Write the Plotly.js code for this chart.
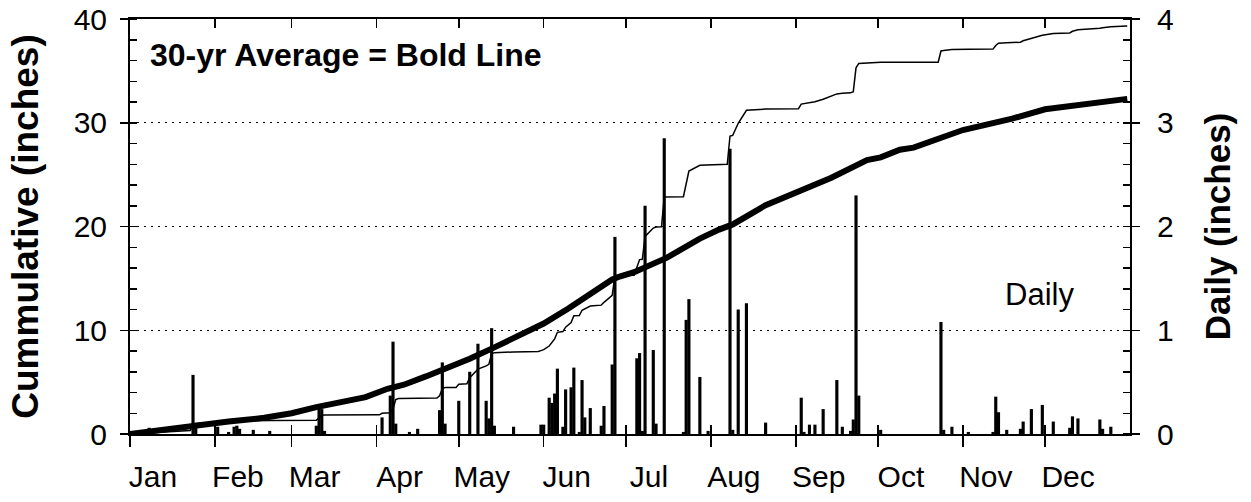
<!DOCTYPE html>
<html>
<head>
<meta charset="utf-8">
<script src="https://cdn.plot.ly/plotly-3.0.1.min.js"></script>
<style>html,body{margin:0;padding:0;background:#fff;}#chart{width:1251px;height:502px;}</style>
</head>
<body>
<div id="chart"></div>
<script>
// ---- data (day-of-year, inches) ----
const YEAR = 2023;
const monthLabels = ['Jan','Feb','Mar','Apr','May','Jun','Jul','Aug','Sep','Oct','Nov','Dec'];
const monthStartDay = [1,32,60,91,121,152,182,213,244,274,305,335];

const dailyDay = [8,24,25,33,37,39,40,41,46,52,69,70,71,72,93,96,97,98,103,106,114,115,116,121,125,128,131,132,133,134,141,151,152,154,155,156,157,159,160,162,163,165,166,167,169,173,174,177,178,186,187,188,189,192,193,196,203,204,205,209,212,220,221,223,226,233,246,247,249,251,254,259,261,264,265,266,267,275,297,298,301,307,316,317,318,321,326,327,330,334,338,344,345,347,355,356,359];
const dailyInches = [0.06,0.57,0.1,0.07,0.02,0.07,0.08,0.05,0.04,0.03,0.08,0.25,0.24,0.03,0.16,0.37,0.89,0.1,0.02,0.05,0.23,0.69,0.1,0.32,0.6,0.87,0.32,0.15,1.02,0.08,0.07,0.09,0.09,0.35,0.3,0.39,0.63,0.07,0.43,0.45,0.64,0.02,0.52,0.16,0.25,0.08,0.27,0.67,1.9,0.73,0.78,0.03,2.2,0.81,0.1,2.85,0.02,1.1,1.3,0.55,0.03,2.75,0.04,1.2,1.26,0.11,0.35,0.02,0.09,0.09,0.24,0.52,0.07,0.03,0.14,2.3,0.37,0.04,1.08,0.04,0.07,0.02,0.02,0.36,0.21,0.04,0.05,0.12,0.24,0.28,0.12,0.06,0.17,0.15,0.14,0.05,0.07];

const cumDay = [1,8,23,24,25,33,37,39,41,46,52,69,70,71,72,92,93,96,97,98,99,113,114,115,116,120,121,124,125,128,131,132,133,134,141,150,151,152,154,155,156,157,159,160,162,163,165,166,167,169,173,174,177,178,185,186,187,188,189,192,193,195,196,203,204,205,209,212,219,220,221,223,226,233,245,246,247,249,251,254,259,261,264,265,266,267,274,275,296,297,298,301,307,316,317,318,321,326,327,330,334,338,344,345,347,355,356,359,365];
const cumInches = [0,0.1,0.33,0.92,1.02,1.09,1.11,1.18,1.25,1.28,1.3,1.32,1.56,1.8,1.83,1.85,2.0,2.05,2.42,3.31,3.41,3.46,3.69,4.38,4.48,4.48,4.8,4.85,5.42,6.25,6.57,6.72,7.74,7.84,7.91,7.95,8.04,8.13,8.48,8.78,9.17,9.8,9.87,10.3,10.75,11.39,11.41,11.93,12.09,12.34,12.42,12.69,13.36,15.28,15.3,16.03,16.81,16.84,19.04,19.85,19.95,19.97,22.85,22.87,24.0,25.35,25.9,25.95,26.0,28.72,28.78,29.95,31.2,31.32,31.35,31.8,31.84,31.93,32.02,32.26,32.78,32.85,32.88,33.0,35.3,35.72,35.78,35.82,35.83,36.92,36.97,37.05,37.08,37.1,37.45,37.66,37.7,37.76,37.9,38.14,38.44,38.6,38.66,38.82,38.96,39.1,39.16,39.26,39.33];

const avgDay = [1,11,24,37,50,60,69,78,87,95,101,109,117,125,134,143,152,161,169,172,177,180,185,197,209,216,221,233,245,257,270,275,282,287,305,323,335,347,365];
const avgInches = [0,0.35,0.82,1.2,1.56,2.0,2.59,3.0,3.55,4.36,4.75,5.55,6.35,7.26,8.35,9.5,10.65,12.1,13.45,14.0,14.9,15.2,15.6,17.0,18.84,19.7,20.2,22.05,23.3,24.7,26.4,26.66,27.4,27.6,29.3,30.4,31.3,31.7,32.3];

// ---- helpers ----
function doyToDate(doy){
  const t = Date.UTC(YEAR,0,1) + (doy-1)*86400000;
  return new Date(t).toISOString().slice(0,10);
}
const FONT = 'Liberation Sans, Arial, Helvetica, sans-serif';
const xStart = YEAR + '-01-01', xEnd = (YEAR+1) + '-01-01';

const traces = [
  {type:'bar', x: dailyDay.map(doyToDate), y: dailyInches, xaxis:'x', yaxis:'y2',
   width: 86400000*1.15, marker:{color:'#000', line:{width:0}}, hoverinfo:'skip', showlegend:false},
  {type:'scatter', mode:'lines', x: avgDay.map(doyToDate), y: avgInches, xaxis:'x', yaxis:'y',
   line:{color:'#000', width:6}, hoverinfo:'skip', showlegend:false},
  {type:'scatter', mode:'lines', x: cumDay.map(doyToDate), y: cumInches, xaxis:'x', yaxis:'y',
   line:{color:'#000', width:1.5}, hoverinfo:'skip', showlegend:false},
  {type:'scatter', mode:'lines', x:[xStart,xEnd], y:[0,0], xaxis:'x2', yaxis:'y',
   line:{color:'rgba(0,0,0,0)', width:0}, hoverinfo:'skip', showlegend:false},
  {type:'scatter', mode:'lines', x:[xStart,xEnd], y:[0,0], xaxis:'x3', yaxis:'y',
   line:{color:'rgba(0,0,0,0)', width:0}, hoverinfo:'skip', showlegend:false}
];

const xCommon = {type:'date', range:[xStart,xEnd], showgrid:false, zeroline:false,
  tickcolor:'#000', tickwidth:1.5, fixedrange:true};

const layout = {
  width:1251, height:502,
  margin:{l:130, r:121, t:19, b:68, pad:0},
  paper_bgcolor:'#fff', plot_bgcolor:'#fff',
  font:{family:FONT, color:'#000', size:30},
  showlegend:false,
  xaxis: Object.assign({}, xCommon, {
    anchor:'y', side:'bottom', ticks:'outside', ticklen:11,
    tickmode:'array', tickvals: monthStartDay.map(doyToDate), ticktext: monthLabels,
    ticklabelshift:23, ticklabelstandoff:4, showticklabels:true,
    tickfont:{family:FONT, size:30, color:'#000'},
    showline:true, linecolor:'#000', linewidth:2
  }),
  xaxis2: Object.assign({}, xCommon, {
    overlaying:'x', anchor:'y', side:'bottom', ticks:'inside', ticklen:9,
    dtick:'M1', tick0:xStart, showticklabels:false, showline:false
  }),
  xaxis3: Object.assign({}, xCommon, {
    overlaying:'x', anchor:'y', side:'top', ticks:'inside', ticklen:9,
    dtick:'M1', tick0:xStart, showticklabels:false, showline:true, linecolor:'#000', linewidth:2
  }),
  yaxis: {
    range:[0,40], dtick:10, tick0:0, side:'left',
    ticks:'outside', ticklen:8, tickwidth:1.5, tickcolor:'#000',
    minor:{ticks:'inside', dtick:2, tick0:0, ticklen:7, tickwidth:1.5, tickcolor:'#000', showgrid:false},
    showgrid:true, gridcolor:'#000', gridwidth:1, griddash:'2px,5px', zeroline:false,
    showline:true, linecolor:'#000', linewidth:2,
    tickfont:{family:FONT, size:30, color:'#000'}, ticklabelstandoff:7,
    title:{text:'<b>Cummulative (inches)</b>', font:{family:FONT, size:37, color:'#000'}, standoff:24},
    fixedrange:true
  },
  yaxis2: {
    overlaying:'y', side:'right', anchor:'x',
    range:[0,4], dtick:1, tick0:0,
    ticks:'outside', ticklen:8, tickwidth:1.5, tickcolor:'#000',
    minor:{ticks:'inside', dtick:0.2, tick0:0, ticklen:7, tickwidth:1.5, tickcolor:'#000', showgrid:false},
    showgrid:false, zeroline:false,
    showline:true, linecolor:'#000', linewidth:2,
    tickfont:{family:FONT, size:30, color:'#000'}, ticklabelstandoff:11,
    title:{text:'<b>Daily (inches)</b>', font:{family:FONT, size:35, color:'#000'}, standoff:33},
    fixedrange:true
  },
  annotations:[
    {xref:'paper', yref:'paper', x:0.018, y:0.914, xanchor:'left', yanchor:'middle', showarrow:false,
     text:'<b>30-yr Average = Bold Line</b>', font:{family:FONT, size:32, color:'#000'}},
    {xref:'paper', yref:'paper', x:0.873, y:0.335, xanchor:'left', yanchor:'middle', showarrow:false,
     text:'Daily', font:{family:FONT, size:31, color:'#000'}}
  ]
};

Plotly.newPlot('chart', traces, layout, {staticPlot:true, displayModeBar:false});
</script>
</body>
</html>
